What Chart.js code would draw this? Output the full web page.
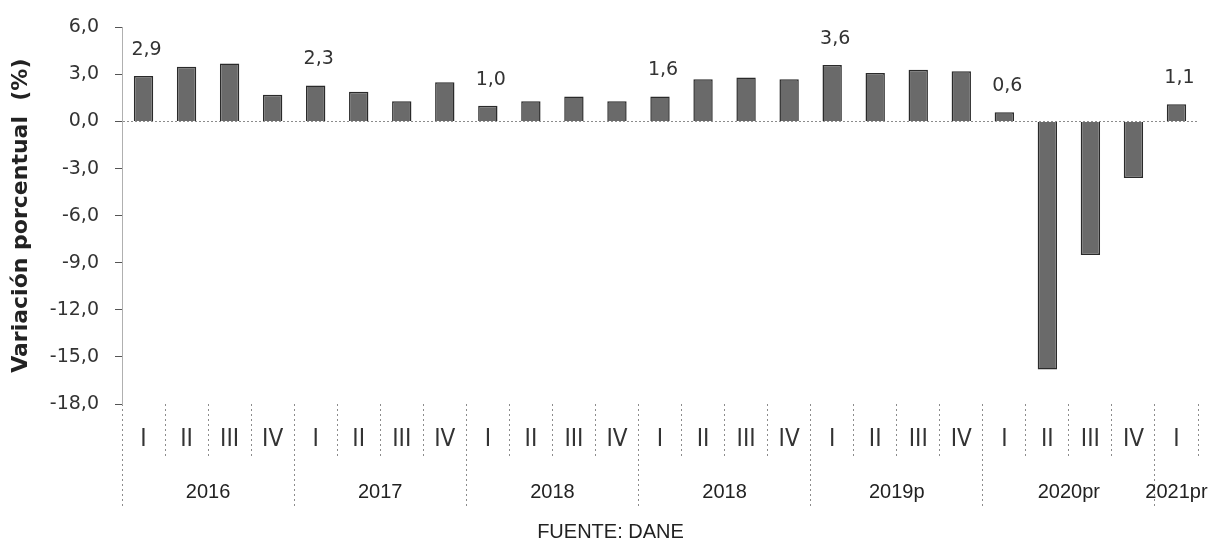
<!DOCTYPE html>
<html lang="es">
<head>
<meta charset="utf-8">
<title>Variación porcentual trimestral</title>
<script src="https://cdn.jsdelivr.net/npm/chart.js@4/dist/chart.umd.min.js"></script>
<style>
    html, body { margin: 0; padding: 0; background: #ffffff; }
    .wrap { position: relative; width: 1217px; height: 542px; }
    .fuente {
        position: absolute;
        left: 0;
        width: 1217px;
        top: 520px;
        text-align: center;
        font-family: 'Liberation Sans', Arial, sans-serif;
        font-size: 20px;
        color: #222;
        padding-left: 2px;
    }
</style>
</head>
<body>
<div class="wrap">
    <canvas id="chart"></canvas>
    <div class="fuente">FUENTE: DANE</div>
</div>
<script>
const quarters = ['I', 'II', 'III', 'IV', 'I', 'II', 'III', 'IV', 'I', 'II', 'III', 'IV',
    'I', 'II', 'III', 'IV', 'I', 'II', 'III', 'IV', 'I', 'II', 'III', 'IV', 'I'];
const years = ['2016', '2017', '2018', '2018', '2019p', '2020pr', '2021pr'];
const values = [2.9, 3.5, 3.7, 1.7, 2.3, 1.9, 1.3, 2.5, 1.0, 1.3, 1.6, 1.3,
    1.6, 2.7, 2.8, 2.7, 3.6, 3.1, 3.3, 3.2, 0.6, -15.8, -8.5, -3.6, 1.1];
const yTicks = [6, 3, 0, -3, -6, -9, -12, -15, -18];

const fmt = v => v.toFixed(1).replace('.', ',');

// year groups: boundaries and centres on the index axis
const yearBounds = [];
const yearCentres = {};
let start = 0, y = -1;
quarters.forEach((q, i) => {
    if (q === 'I') {
        y++;
        start = i;
        yearBounds.push(i - 0.5);
    }
    if (q === 'IV' || i === quarters.length - 1) {
        yearCentres[(start + i) / 2] = years[y];
    }
});
const yearTickValues = yearBounds.concat(Object.keys(yearCentres).map(Number)).sort((a, b) => a - b);

// labels above the first quarter of each year
const valueLabels = {
    id: 'valueLabels',
    afterDatasetsDraw(chart) {
        const ctx = chart.ctx;
        const meta = chart.getDatasetMeta(0);
        ctx.save();
        ctx.font = "19px 'DejaVu Sans', Verdana, sans-serif";
        ctx.fillStyle = '#333';
        ctx.textAlign = 'center';
        ctx.textBaseline = 'middle';
        meta.data.forEach((bar, i) => {
            if (quarters[i] !== 'I') return;
            ctx.fillText(fmt(values[i]), bar.x + 3, bar.y - 26);
        });
        ctx.restore();
    }
};

const ctx = document.getElementById('chart').getContext('2d');
new Chart(ctx, {
    type: 'bar',
    data: {
        labels: quarters,
        datasets: [{
            data: values,
            backgroundColor: '#6a6a6a',
            borderColor: '#2a2a2a',
            borderWidth: 1.5,
            categoryPercentage: 1,
            barPercentage: 0.45
        }]
    },
    options: {
        responsive: true,
        maintainAspectRatio: false,
        animation: false,
        layout: { padding: { top: 22, right: 19, bottom: 35, left: 0 } },
        plugins: {
            legend: { display: false },
            tooltip: { enabled: false }
        },
        scales: {
            y: {
                min: -18,
                max: 6,
                afterBuildTicks: s => { s.ticks = yTicks.map(v => ({ value: v })); },
                afterFit: s => { s.width = 122; },
                ticks: {
                    padding: 16,
                    color: '#333',
                    font: { family: "'DejaVu Sans', Verdana, sans-serif", size: 19 },
                    callback: v => fmt(v)
                },
                grid: {
                    color: c => (c.tick && c.tick.value === 0) ? '#8c8c8c' : 'rgba(0,0,0,0)',
                    tickColor: '#555',
                    tickLength: 7
                },
                border: { display: true, color: '#b0b0b0', dash: [2, 2] },
                title: {
                    display: true,
                    text: 'Variación porcentual  (%)',
                    color: '#222',
                    font: { family: "'DejaVu Sans', Verdana, sans-serif", size: 22, weight: 'bold' },
                    padding: { top: 8, bottom: 0 }
                }
            },
            x: {
                weight: 0,
                offset: true,
                afterFit: s => { s.height = 55; },
                grid: {
                    offset: true,
                    drawOnChartArea: false,
                    tickLength: 55,
                    tickColor: '#8c8c8c',
                    tickBorderDash: [2, 3]
                },
                border: { display: false },
                ticks: {
                    padding: -34,
                    autoSkip: false,
                    maxRotation: 0,
                    color: '#333',
                    font: { family: "'Liberation Sans Narrow', 'DejaVu Sans Condensed', sans-serif", size: 24 }
                }
            },
            x2: {
                type: 'linear',
                position: 'bottom',
                weight: 1,
                offset: false,
                bounds: 'data',
                min: -0.5,
                max: quarters.length - 0.5,
                afterBuildTicks: s => { s.ticks = yearTickValues.map(v => ({ value: v })); },
                afterFit: s => { s.height = 48; },
                grid: {
                    offset: false,
                    drawOnChartArea: false,
                    tickLength: 48,
                    tickColor: c => (c.tick && yearBounds.includes(c.tick.value)) ? '#8c8c8c' : 'rgba(0,0,0,0)',
                    tickBorderDash: [2, 3]
                },
                border: { display: false },
                ticks: {
                    padding: -27,
                    autoSkip: false,
                    maxRotation: 0,
                    color: '#222',
                    font: { family: "'Liberation Sans', Arial, sans-serif", size: 20 },
                    callback: v => yearCentres[v] || ''
                }
            }
        }
    },
    plugins: [valueLabels]
});
</script>
</body>
</html>
